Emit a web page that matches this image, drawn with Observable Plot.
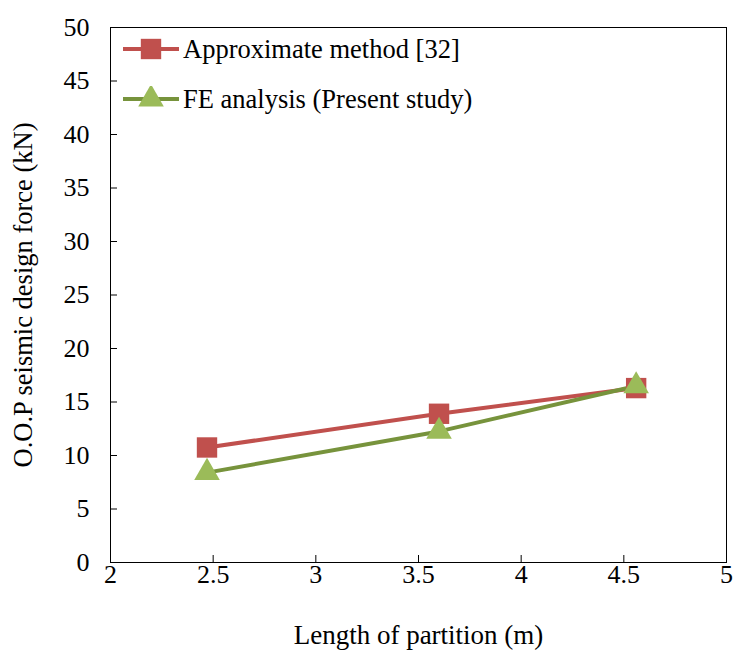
<!DOCTYPE html>
<html>
<head>
<meta charset="utf-8">
<script src="https://cdn.jsdelivr.net/npm/d3@7"></script>
<script src="https://cdn.jsdelivr.net/npm/@observablehq/plot@0.6"></script>
<style>
  html, body { margin: 0; padding: 0; background: #fff; }
  #wrap { position: relative; width: 734px; height: 653px; font-family: "Liberation Serif", "Times New Roman", serif; }
  #wrap svg text { font-family: "Liberation Serif", "Times New Roman", serif; }
  #legend { position: absolute; left: 120px; top: 24px; font-size: 26.5px; color: #000; }
  #legend .row { display: flex; align-items: center; height: 50px; }
  #legend svg { margin-right: 3px; }
</style>
</head>
<body>
<div id="wrap"></div>
<script>
const lengths = [2.47, 3.60, 4.56];
const approxForce = [10.75, 13.9, 16.3];
const feForce = [8.4, 12.25, 16.5];
const seriesNames = ["Approximate method [32]", "FE analysis (Present study)"];
const xTicks = [2, 2.5, 3, 3.5, 4, 4.5, 5];
const yTicks = [0, 5, 10, 15, 20, 25, 30, 35, 40, 45, 50];

const red = "#C0504D";
const greenLine = "#77933C";
const greenMark = "#9BBB59";

const approx = lengths.map((x, i) => ({x, y: approxForce[i]}));
const fe = lengths.map((x, i) => ({x, y: feForce[i]}));

const font = "Liberation Serif, Times New Roman, serif";

const chart = Plot.plot({
  width: 734,
  height: 653,
  marginLeft: 110,
  marginRight: 8,
  marginTop: 27,
  marginBottom: 91,
  style: {fontFamily: font, fontSize: "26px", color: "#000", background: "#fff"},
  x: {domain: [2, 5], ticks: xTicks},
  y: {domain: [0, 50], ticks: yTicks},
  marks: [
    Plot.frame({stroke: "#000", strokeWidth: 1}),
    Plot.axisX({ticks: xTicks, tickSize: -7, tickPadding: 9, tickFormat: d => String(d), label: null, fontSize: 26, fontFamily: font}),
    Plot.axisY({ticks: yTicks, tickSize: -7, tickPadding: 28, tickFormat: d => String(d), label: null, fontSize: 26, fontFamily: font}),
    Plot.text(["Length of partition (m)"], {frameAnchor: "bottom", dy: 73, text: d => d, fontSize: 27, fontFamily: font, lineAnchor: "middle"}),
    Plot.text(["O.O.P seismic design force (kN)"], {frameAnchor: "left", dx: -87, rotate: -90, textAnchor: "middle", lineAnchor: "middle", text: d => d, fontSize: 26.5, fontFamily: font}),
    Plot.line(approx, {x: "x", y: "y", stroke: red, strokeWidth: 4}),
    Plot.line(fe, {x: "x", y: "y", stroke: greenLine, strokeWidth: 4}),
    Plot.dot(approx, {x: "x", y: "y", symbol: "square", r: 11.5, fill: red, stroke: null}),
    Plot.dot(fe, {x: "x", y: "y", symbol: "triangle", r: 9.5, fill: greenMark, stroke: null})
  ]
});

const wrap = document.getElementById("wrap");
wrap.appendChild(chart);

const legend = document.createElement("div");
legend.id = "legend";
const items = [
  {name: seriesNames[0], line: red, mark: red, shape: "square"},
  {name: seriesNames[1], line: greenLine, mark: greenMark, shape: "triangle"}
];
for (const it of items) {
  const row = document.createElement("div");
  row.className = "row";
  const ns = "http://www.w3.org/2000/svg";
  const s = document.createElementNS(ns, "svg");
  s.setAttribute("width", 60); s.setAttribute("height", 26);
  const l = document.createElementNS(ns, "line");
  l.setAttribute("x1", 3); l.setAttribute("x2", 59); l.setAttribute("y1", 13); l.setAttribute("y2", 13);
  l.setAttribute("stroke", it.line); l.setAttribute("stroke-width", 4);
  s.appendChild(l);
  const p = document.createElementNS(ns, "path");
  p.setAttribute("transform", "translate(31,13)");
  p.setAttribute("d", it.shape === "square"
    ? d3.symbol(d3.symbolSquare, Math.PI * 11.5 * 11.5)()
    : d3.symbol(d3.symbolTriangle, Math.PI * 9.5 * 9.5)());
  p.setAttribute("fill", it.mark);
  s.appendChild(p);
  row.appendChild(s);
  const t = document.createElement("span");
  t.textContent = it.name;
  row.appendChild(t);
  legend.appendChild(row);
}
wrap.appendChild(legend);
</script>
</body>
</html>
